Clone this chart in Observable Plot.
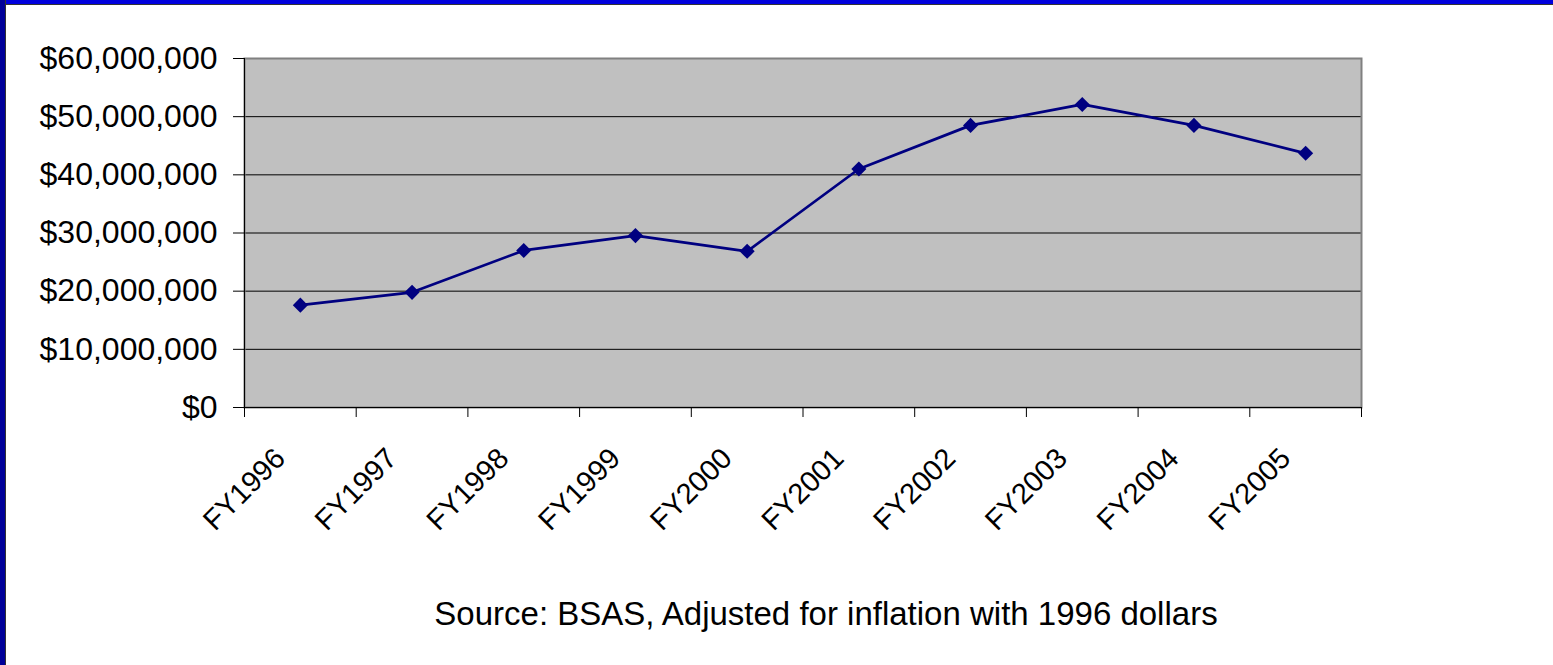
<!DOCTYPE html>
<html><head><meta charset="utf-8">
<script src="https://cdn.jsdelivr.net/npm/d3@7"></script>
<script src="https://cdn.jsdelivr.net/npm/@observablehq/plot@0.6"></script>
<style>
html,body{margin:0;padding:0;background:#fff;}
#wrap{position:relative;width:1553px;height:665px;overflow:hidden;background:#fff;font-family:"Liberation Sans",Arial,sans-serif;}
#topbar{position:absolute;left:0;top:0;width:1553px;height:4px;background:#0000dd;border-bottom:1px solid #333;}
#leftbar{position:absolute;left:0;top:0;width:5px;height:665px;background:#000099;border-right:1px solid #333;}
#caption{position:absolute;left:426px;width:800px;top:598px;text-align:center;font-size:33px;line-height:32px;color:#000;white-space:nowrap;}
</style></head><body>
<div id="wrap"><div id="chart"></div><div id="caption"></div><div id="topbar"></div><div id="leftbar"></div></div>
<script>
const categories = ["FY1996","FY1997","FY1998","FY1999","FY2000","FY2001","FY2002","FY2003","FY2004","FY2005"];
const values = [17.6e6, 19.8e6, 27.0e6, 29.55e6, 26.85e6, 41.0e6, 48.5e6, 52.1e6, 48.5e6, 43.7e6];
const yTicks = [0, 10e6, 20e6, 30e6, 40e6, 50e6, 60e6];
const gridTicks = [10e6, 20e6, 30e6, 40e6, 50e6];
const captionText = "Source: BSAS, Adjusted for inflation with 1996 dollars";

const data = categories.map((c, i) => ({category: c, pos: i + 0.5, value: values[i]}));
const boundaries = d3.range(categories.length + 1);

const chart = Plot.plot({
  width: 1553, height: 580,
  marginLeft: 244, marginRight: 192, marginTop: 58, marginBottom: 173,
  style: {fontFamily: "'Liberation Sans', Arial, sans-serif", fontSize: "32px", color: "#000", background: "transparent", overflow: "visible"},
  x: {type: "linear", domain: [0, categories.length]},
  y: {domain: [0, 60e6]},
  marks: [
    Plot.frame({fill: "#c0c0c0"}),
    Plot.ruleY(gridTicks, {stroke: "#000", strokeWidth: 1}),
    Plot.frame({stroke: "#808080", strokeWidth: 2}),
    Plot.ruleX([0], {stroke: "#000", strokeWidth: 1}),
    Plot.ruleY([0], {stroke: "#000", strokeWidth: 1}),
    Plot.axisY({ticks: yTicks, tickSize: 11, tickPadding: 16, tickFormat: d3.format("$,.0f"), fontSize: 32, label: null}),
    Plot.axisX({ticks: boundaries, tickSize: 10, tickFormat: () => "", label: null}),
    Plot.text(data, {x: "pos", text: "category", frameAnchor: "bottom", rotate: -45, textAnchor: "end", lineAnchor: "top", dx: -28, dy: 38, fontSize: 29}),
    Plot.line(data, {x: "pos", y: "value", stroke: "#000080", strokeWidth: 2.75}),
    Plot.dot(data, {x: "pos", y: "value", symbol: "diamond2", r: 6.8, fill: "#000080", stroke: "none"})
  ]
});
document.getElementById("chart").appendChild(chart);
document.getElementById("caption").textContent = captionText;
</script>
</body></html>
